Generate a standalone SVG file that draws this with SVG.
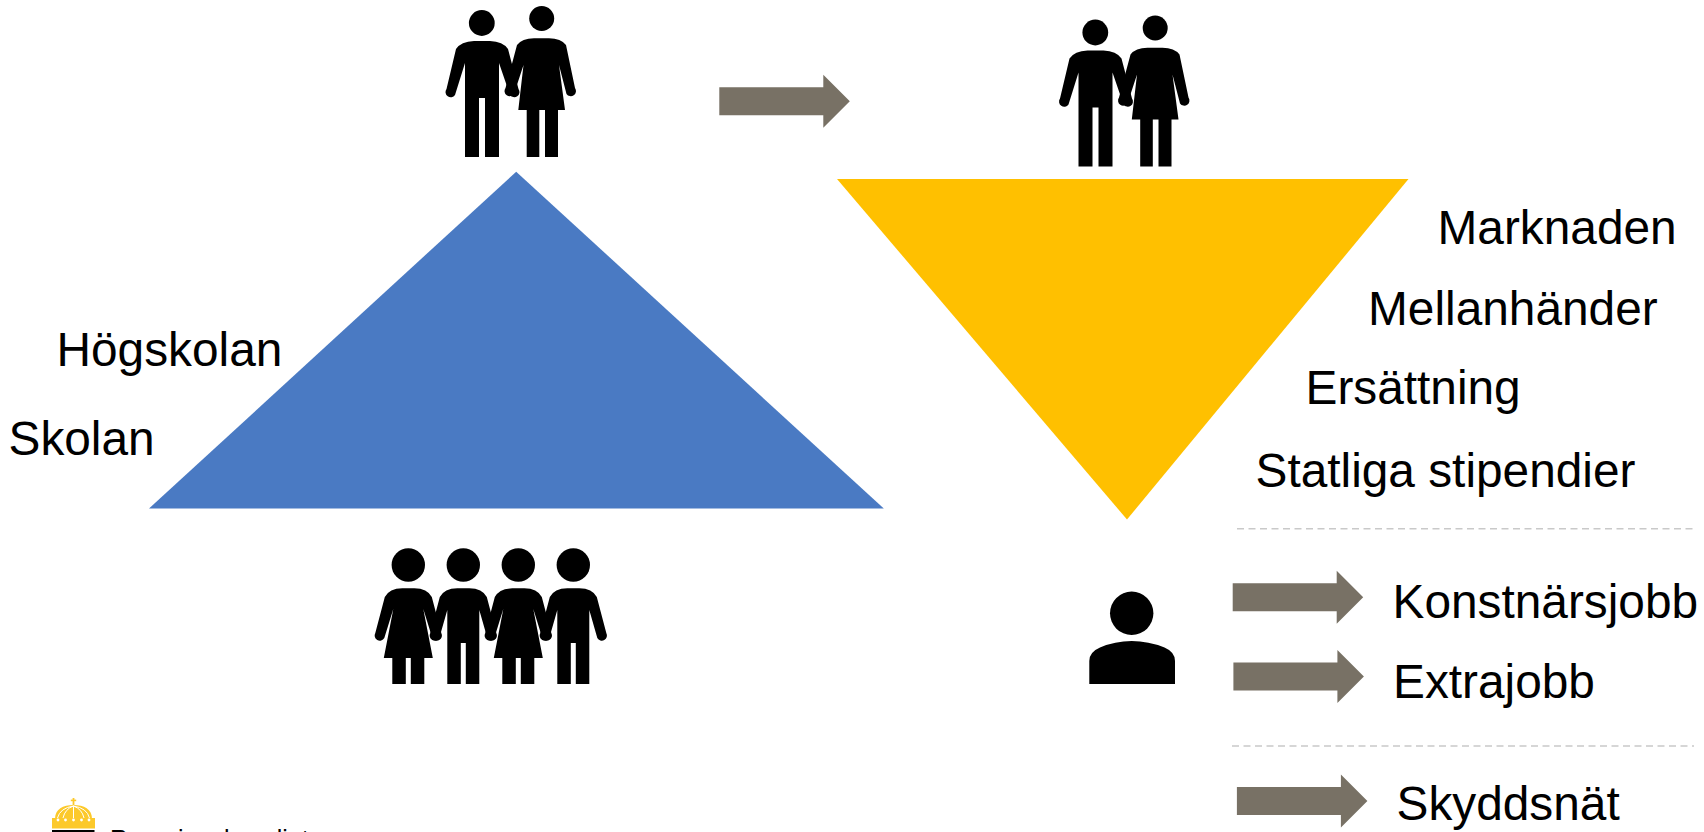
<svg xmlns="http://www.w3.org/2000/svg" xmlns:xlink="http://www.w3.org/1999/xlink" width="1704" height="832" viewBox="0 0 1704 832">
<style>
.lbl{font-family:"Liberation Sans",Arial,sans-serif;font-size:47.8px;fill:#000}
.arrow{fill:#787165}
.dash{stroke:#C9C9C9;stroke-width:1.5;stroke-dasharray:7 4.5;fill:none}
.ink{fill:#000}
.gold{fill:#FCC92B}
</style>
<defs>
<path id="arr" d="M0,-14 H104 V-26.5 L130.5,0 L104,26.5 V14 H0 Z"/>
<g id="coupleShape" class="ink">
<circle cx="481.8" cy="23" r="12.9"/>
<path d="M456,49 Q461,41.5 474,41 L490,41 Q503,41.5 508,49 L518.5,89 A5 5 0 0 1 510,95 L499,63 L499,157 L485,157 L485,98 L479,98 L479,157 L465,157 L465,63 L455,95 A5 5 0 0 1 446.5,89 Z"/>
<circle cx="541.7" cy="18.5" r="12.5"/>
<path d="M517,45 Q522,38.5 534,38.3 L549,38.3 Q561,38.5 566,45 L575,88 A5 5 0 0 1 566.5,94 L559,65 L565,110 L558,110 L558,157 L545,157 L545,110 L539.3,110 L539.3,157 L526.7,157 L526.7,110 L518.3,110 L523.5,65 L514,94 A5 5 0 0 1 505.5,88 Z"/>
</g>
<g id="girl" class="ink">
<circle cx="0" cy="565" r="16.7"/>
<path d="M-23.5,597 Q-19,588.5 -6,588.3 L6,588.3 Q19,588.5 23.5,597 L33,633 A5 5 0 0 1 24,638 L15,609 L24.5,658 L16,658 L16,684 L2.5,684 L2.5,658 L-2.5,658 L-2.5,684 L-16,684 L-16,658 L-24.5,658 L-15,609 L-24,638 A5 5 0 0 1 -33,633 Z"/>
</g>
<g id="boy" class="ink">
<circle cx="0" cy="565" r="16.7"/>
<path d="M-23.5,597 Q-19,588.5 -6,588.3 L6,588.3 Q19,588.5 23.5,597 L33,633 A5 5 0 0 1 24,638 L16,610 L16,684 L2.5,684 L2.5,643 L-2.5,643 L-2.5,684 L-16,684 L-16,610 L-24,638 A5 5 0 0 1 -33,633 Z"/>
</g>
</defs>
<rect width="1704" height="832" fill="#fff"/>

<g id="pyramid-blue"><polygon points="516.2,171.7 149,508.6 883.8,508.6" fill="#4A7AC3"/></g>
<g id="funnel-yellow"><polygon points="837,179 1408.5,179 1127,519.5" fill="#FFC000"/></g>

<g id="couple-left"><use xlink:href="#coupleShape" href="#coupleShape"/></g>
<g id="couple-right"><use xlink:href="#coupleShape" href="#coupleShape" transform="translate(613.5,9.5)"/></g>

<g id="children">
<use xlink:href="#girl" href="#girl" transform="translate(408.3,0)"/>
<use xlink:href="#boy" href="#boy" transform="translate(463.3,0)"/>
<use xlink:href="#girl" href="#girl" transform="translate(518.3,0)"/>
<use xlink:href="#boy" href="#boy" transform="translate(573.3,0)"/>
</g>

<g id="person" class="ink">
<circle cx="1131.7" cy="613.3" r="21.7"/>
<path d="M1089.3,684 L1089.3,661 Q1089.3,652 1100,647.5 Q1115,641 1131.7,641 Q1148.5,641 1164.5,647.5 Q1175,652 1175,661 L1175,684 Z"/>
</g>

<g id="connectors">
<use class="arrow" xlink:href="#arr" href="#arr" transform="translate(719.3,101.2)"/>
<use class="arrow" xlink:href="#arr" href="#arr" transform="translate(1232.7,597.2)"/>
<use class="arrow" xlink:href="#arr" href="#arr" transform="translate(1233.4,676.4)"/>
<use class="arrow" xlink:href="#arr" href="#arr" transform="translate(1236.9,801)"/>
<line class="dash" x1="1237" y1="528.8" x2="1697" y2="528.8"/>
<line class="dash" x1="1232" y1="746" x2="1694" y2="746"/>
</g>

<g id="labels-left">
<text class="lbl" x="56.5" y="365.5">Högskolan</text>
<text class="lbl" x="8.5" y="454.5">Skolan</text>
</g>
<g id="labels-right">
<text class="lbl" x="1437.5" y="243.5">Marknaden</text>
<text class="lbl" x="1368" y="325">Mellanhänder</text>
<text class="lbl" x="1305.5" y="404">Ersättning</text>
<text class="lbl" x="1255.5" y="486.5">Statliga stipendier</text>
<text class="lbl" x="1392.5" y="617.5">Konstnärsjobb</text>
<text class="lbl" x="1393" y="697.5">Extrajobb</text>
<text class="lbl" x="1396.5" y="820">Skyddsnät</text>
</g>

<g id="logo">
<rect class="gold" x="72.6" y="798" width="1.8" height="7"/>
<rect class="gold" x="70.8" y="799.6" width="5.4" height="1.6"/>
<path class="gold" d="M55,819 C55,809 63,805 73.5,805 C84,805 92,809 92,819 Z"/>
<path d="M73.5,806 V818 M73.5,806 Q65,809 63,818 M73.5,806 Q82,809 84,818 M73.5,806 Q60,808 57.5,818 M73.5,806 Q87,808 89.5,818" stroke="#fff" stroke-width="1" fill="none"/>
<rect class="gold" x="52" y="818" width="43" height="10.5"/>
<g fill="#fff">
<circle cx="58" cy="820" r="1.4"/><circle cx="65.5" cy="820" r="1.4"/><circle cx="73.5" cy="820" r="1.4"/><circle cx="81.5" cy="820" r="1.4"/><circle cx="89" cy="820" r="1.4"/>
</g>
<rect x="52" y="830" width="42.5" height="2" fill="#000"/>
<text x="110" y="848" font-family="Liberation Sans, Arial, sans-serif" font-size="25" fill="#000">Regeringskansliet</text>
</g>
</svg>
